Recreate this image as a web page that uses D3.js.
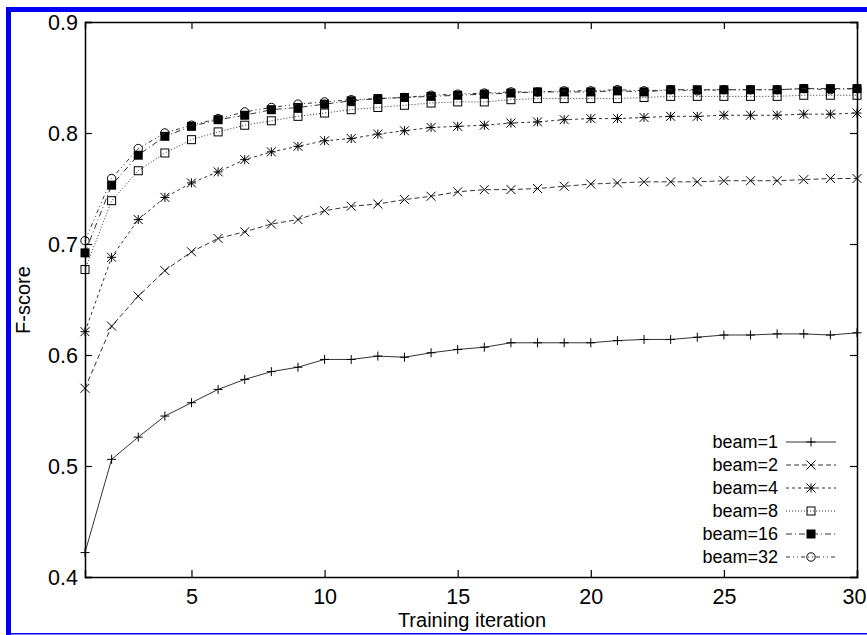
<!DOCTYPE html>
<html><head><meta charset="utf-8">
<script src="https://cdn.jsdelivr.net/npm/d3@7"></script>
<style>html,body{margin:0;padding:0;background:#fff;}svg{display:block;}</style>
</head><body>
<svg id="chart" width="867" height="635"></svg>
<script>
const iterations = [1,2,3,4,5,6,7,8,9,10,11,12,13,14,15,16,17,18,19,20,21,22,23,24,25,26,27,28,29,30];
const seriesNames = ["beam=1","beam=2","beam=4","beam=8","beam=16","beam=32"];
const beam1  = [0.422,0.506,0.526,0.545,0.557,0.569,0.578,0.585,0.589,0.596,0.596,0.599,0.598,0.602,0.605,0.607,0.611,0.611,0.611,0.611,0.613,0.614,0.614,0.616,0.618,0.618,0.619,0.619,0.618,0.620];
const beam2  = [0.570,0.626,0.653,0.676,0.693,0.705,0.711,0.718,0.722,0.730,0.734,0.736,0.740,0.743,0.747,0.749,0.749,0.750,0.752,0.754,0.755,0.756,0.756,0.756,0.757,0.757,0.757,0.758,0.759,0.759];
const beam4  = [0.621,0.688,0.722,0.742,0.755,0.765,0.776,0.783,0.788,0.793,0.795,0.799,0.802,0.805,0.806,0.807,0.809,0.810,0.812,0.813,0.813,0.814,0.815,0.815,0.816,0.816,0.816,0.817,0.817,0.818];
const beam8  = [0.677,0.739,0.766,0.782,0.794,0.801,0.807,0.811,0.815,0.818,0.821,0.823,0.825,0.827,0.828,0.828,0.830,0.831,0.831,0.831,0.831,0.832,0.833,0.833,0.833,0.833,0.833,0.834,0.834,0.834];
const beam16 = [0.692,0.753,0.780,0.797,0.806,0.812,0.816,0.821,0.823,0.826,0.829,0.831,0.832,0.833,0.834,0.835,0.836,0.837,0.837,0.837,0.838,0.837,0.839,0.839,0.839,0.839,0.839,0.840,0.840,0.840];
const beam32 = [0.703,0.759,0.786,0.800,0.807,0.813,0.819,0.823,0.826,0.828,0.830,0.831,0.832,0.834,0.835,0.836,0.837,0.837,0.838,0.838,0.839,0.838,0.839,0.838,0.839,0.839,0.839,0.840,0.839,0.840];
const xTicks = [5,10,15,20,25,30];
const yTicks = [0.4,0.5,0.6,0.7,0.8,0.9];
const xLabel = "Training iteration";
const yLabel = "F-score";

const seriesValues = [beam1,beam2,beam4,beam8,beam16,beam32];
const dashes = [null,"5,3","3,3","1,2","6,3,1,3","4,3,1,3,1,3"];
const markerKinds = ["plus","times","star","square","filled","circle"];

const svg = d3.select("#chart");
const margin = {left:85, right:867-857, top:22, bottom:635-577};
const W = 867, H = 635;
const x = d3.scaleLinear().domain([1,30]).range([margin.left, W-margin.right]);
const y = d3.scaleLinear().domain([0.4,0.9]).range([H-margin.bottom, margin.top]);
const font = "'Liberation Sans', Arial, Helvetica, sans-serif";

// blue frame
svg.append("rect").attr("x",6).attr("y",7).attr("width",W-6).attr("height",5).attr("fill","#0000f5");
svg.append("rect").attr("x",6).attr("y",7).attr("width",5).attr("height",H-7).attr("fill","#0000f5");
svg.append("rect").attr("x",6).attr("y",633).attr("width",W-6).attr("height",1.5).attr("fill","#0000f5");

// axes (gnuplot style inward ticks, mirrored)
const tickLen = 7;
const gx = svg.append("g").attr("transform",`translate(0,${y(0.4)})`)
  .call(d3.axisBottom(x).tickValues(xTicks).tickSize(-tickLen).tickPadding(12).tickFormat(d3.format("d")));
const gxt = svg.append("g").attr("transform",`translate(0,${y(0.9)})`)
  .call(d3.axisTop(x).tickValues(xTicks).tickSize(-tickLen).tickFormat(""));
const gy = svg.append("g").attr("transform",`translate(${x(1)},0)`)
  .call(d3.axisLeft(y).tickValues(yTicks).tickSize(-tickLen).tickPadding(7).tickFormat(d3.format(".1f")));
const gyr = svg.append("g").attr("transform",`translate(${x(30)},0)`)
  .call(d3.axisRight(y).tickValues(yTicks).tickSize(-tickLen).tickFormat(""));
[gx,gxt,gy,gyr].forEach(g=>{
  g.select(".domain").attr("stroke","#000").attr("stroke-width",1.5);
  g.selectAll(".tick line").attr("stroke","#000").attr("stroke-width",1.2);
  g.selectAll(".tick text").attr("font-family",font).attr("font-size",21.5).attr("fill","#000");
});
gy.selectAll(".tick text").attr("dy","0.36em");
gx.selectAll(".tick text").attr("dy","0.68em");
// last x label sits inside the page edge, like the reference
gx.selectAll(".tick text").filter(d=>d===30).attr("text-anchor","end").attr("x",866-x(30));

// axis labels
svg.append("text").attr("x",472).attr("y",627).attr("text-anchor","middle")
  .attr("font-family",font).attr("font-size",20).text(xLabel);
svg.append("text").attr("transform",`translate(30,300) rotate(-90)`).attr("text-anchor","middle")
  .attr("font-family",font).attr("font-size",20).text(yLabel);

function drawMarker(g, kind, cx, cy){
  const s = 4.5;
  if(kind==="plus"){
    g.append("path").attr("d",`M${cx-s},${cy}H${cx+s}M${cx},${cy-s}V${cy+s}`).attr("stroke","#000").attr("stroke-width",1);
  } else if(kind==="times"){
    g.append("path").attr("d",`M${cx-s},${cy-s}L${cx+s},${cy+s}M${cx-s},${cy+s}L${cx+s},${cy-s}`).attr("stroke","#000").attr("stroke-width",1);
  } else if(kind==="star"){
    g.append("path").attr("d",`M${cx-s},${cy-s}L${cx+s},${cy+s}M${cx-s},${cy+s}L${cx+s},${cy-s}M${cx-s},${cy}H${cx+s}M${cx},${cy-s}V${cy+s}`).attr("stroke","#000").attr("stroke-width",1);
  } else if(kind==="square"){
    g.append("rect").attr("x",cx-4).attr("y",cy-4).attr("width",8).attr("height",8).attr("fill","none").attr("stroke","#000").attr("stroke-width",1);
  } else if(kind==="filled"){
    g.append("rect").attr("x",cx-4.5).attr("y",cy-4.5).attr("width",9).attr("height",9).attr("fill","#000");
  } else if(kind==="circle"){
    g.append("circle").attr("cx",cx).attr("cy",cy).attr("r",4.2).attr("fill","none").attr("stroke","#000").attr("stroke-width",1);
  }
}

const line = d3.line().x((d,i)=>x(iterations[i])).y(d=>y(d));
seriesValues.forEach((vals,k)=>{
  const g = svg.append("g");
  g.append("path").datum(vals).attr("d",line).attr("fill","none")
    .attr("stroke","#333").attr("stroke-width",1)
    .attr("stroke-dasharray",dashes[k]);
  vals.forEach((v,i)=>drawMarker(g, markerKinds[k], x(iterations[i]), y(v)));
});

// legend
const legRowY = d3.scaleLinear().domain([0,5]).range([442,557]);
seriesNames.forEach((name,k)=>{
  const g = svg.append("g");
  const yy = legRowY(k);
  g.append("text").attr("x",778).attr("y",yy).attr("dy","0.36em").attr("text-anchor","end")
    .attr("font-family",font).attr("font-size",18).text(name);
  g.append("line").attr("x1",786).attr("x2",836).attr("y1",yy).attr("y2",yy)
    .attr("stroke","#333").attr("stroke-width",1).attr("stroke-dasharray",dashes[k]);
  drawMarker(g, markerKinds[k], 811, yy);
});
</script>
</body></html>
